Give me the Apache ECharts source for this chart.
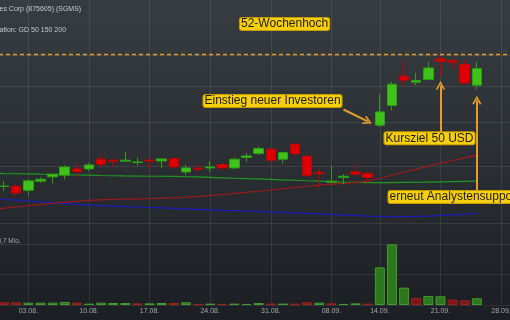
<!DOCTYPE html>
<html><head><meta charset="utf-8">
<script src="https://cdn.jsdelivr.net/npm/echarts@6/dist/echarts.min.js"></script>
<style>
html,body{margin:0;padding:0;width:510px;height:320px;overflow:hidden;background:linear-gradient(180deg,#373c40 0%,#2b2f34 50%,#1b1e22 100%);}
#c{width:510px;height:320px;}
</style>
</head><body><div id="c"></div>
<script>
const dates = ['29.07.','30.07.','31.07.','03.08.','04.08.','05.08.','06.08.','07.08.','10.08.','11.08.','12.08.','13.08.','14.08.','17.08.','18.08.','19.08.','20.08.','21.08.','24.08.','25.08.','26.08.','27.08.','28.08.','31.08.','01.09.','02.09.','03.09.','04.09.','08.09.','09.09.','10.09.','11.09.','14.09.','15.09.','16.09.','17.09.','18.09.','21.09.','22.09.','23.09.','24.09.','25.09.','28.09.','29.09.'];
const tickLabels = ['03.08.','10.08.','17.08.','24.08.','31.08.','08.09.','14.09.','21.09.','28.09.'];

const open  = [null,18.06,18.08,17.72,18.55,18.96,19.12,19.74,19.74,20.73,20.63,20.52,20.39,20.63,20.55,20.81,19.44,19.81,19.84,20.18,19.84,20.91,21.34,21.81,20.73,22.37,21.05,19.38,18.45,18.90,19.44,19.31,24.63,27.21,31.56,30.61,31.03,34.44,34.10,33.48,30.15];
const close = [null,18.10,17.48,18.58,18.74,19.22,19.94,19.48,20.14,20.21,20.52,20.63,20.45,20.55,20.76,19.94,19.84,19.71,19.94,19.84,20.73,21.08,21.89,20.63,21.45,21.34,19.12,19.28,18.55,19.02,19.22,18.90,26.34,30.30,30.92,30.88,32.91,34.05,33.87,30.50,32.81];
const low   = [null,17.66,17.19,17.28,18.39,18.33,18.71,18.96,19.54,19.94,20.01,20.42,20.08,19.84,19.84,19.78,19.12,19.44,19.44,19.61,19.71,20.45,21.16,20.52,20.29,20.97,18.90,17.93,18.43,18.27,19.12,18.33,24.42,26.57,30.15,30.15,30.92,31.67,32.69,30.30,29.50];
const high  = [null,18.55,18.27,18.76,18.90,19.25,20.11,20.29,20.35,21.16,20.73,21.59,20.91,20.91,20.80,20.85,20.18,20.18,20.52,20.29,20.91,21.40,22.14,21.89,21.45,22.40,21.16,19.78,20.04,19.22,20.21,19.31,28.81,30.66,33.93,32.09,33.93,34.97,34.51,34.22,33.93];

const gd50  = [16.06,16.18,16.28,16.38,16.48,16.59,16.68,16.76,16.83,16.88,16.92,16.94,16.97,16.99,17.02,17.05,17.10,17.17,17.25,17.34,17.44,17.53,17.63,17.74,17.86,17.97,18.08,18.18,18.27,18.34,18.42,18.55,18.83,19.12,19.41,19.71,20.01,20.32,20.60,20.88,21.16];
const gd150 = [19.31,19.28,19.26,19.25,19.22,19.20,19.17,19.14,19.12,19.09,19.07,19.05,19.04,19.02,19.02,19.00,18.97,18.95,18.91,18.87,18.83,18.79,18.76,18.72,18.68,18.64,18.59,18.55,18.50,18.45,18.43,18.41,18.41,18.42,18.44,18.45,18.47,18.49,18.51,18.53,18.55];
const gd200 = [16.95,16.91,16.85,16.78,16.71,16.64,16.58,16.51,16.44,16.39,16.35,16.31,16.28,16.24,16.21,16.17,16.13,16.09,16.05,16.01,15.98,15.94,15.91,15.88,15.85,15.81,15.77,15.73,15.69,15.65,15.60,15.55,15.52,15.50,15.50,15.52,15.55,15.60,15.65,15.71,15.77];

// volume in Mio., direction 1 = up (green), 0 = down (red)
const volume = [null,0.031,0.031,0.027,0.027,0.027,0.035,0.027,0.016,0.027,0.023,0.023,0.019,0.019,0.023,0.023,0.031,0.012,0.016,0.012,0.016,0.012,0.023,0.016,0.016,0.016,0.031,0.027,0.019,0.012,0.019,0.016,0.434,0.700,0.200,0.081,0.104,0.100,0.062,0.054,0.077];
const volUp  = [null,0,0,1,1,1,1,0,1,1,1,1,0,1,1,0,1,0,1,0,1,1,1,0,1,0,0,1,0,1,1,0,1,1,1,0,1,1,0,0,1];

const high52 = 35.22;
const priceGrid = [15,20,25,30,35];
const volMax = 0.7;

const arrowKursziel = [['21.09.',23.77],['21.09.',30.10]];
const arrowSupport  = [['24.09.',17.63],['24.09.',27.95]];
const arrowInvest   = [['09.09.',26.66],['11.09.',25.10]];

const gridCol = 'rgba(255,255,255,0.085)';
const orange = '#e39d2a';
const arrowHead = 'path://M0,9 L5,0 L10,9 L8.4,10 L5,3.4 L1.6,10 Z';

const candleData = dates.map((d,i)=> open[i]==null ? '-' : [open[i],close[i],low[i],high[i]]);
const volData = volume.map((v,i)=> v==null ? '-' : {
  value:v,
  itemStyle: volUp[i] ? {color:'#2d781c',borderColor:'#449a2e',borderWidth:1} : {color:'#7e1616',borderColor:'#a32020',borderWidth:1}
});

const chart = echarts.init(document.getElementById('c'), null, {renderer:'canvas'});
const lbl = (txt,x,y)=>({type:'text', x:x, y:y, z:100, style:{text:txt, font:'12px "Liberation Sans", Arial, sans-serif', fill:'#1d1d1d', backgroundColor:'#f6cf0c', borderColor:'#c99b00', borderWidth:1, borderRadius:2, padding:[0,1,0,1], lineHeight:12, verticalAlign:'top', align:'left'}});

chart.setOption({
  animation:false,
  backgroundColor:'transparent',
  grid:[
    {left:-8, width:521.2, top:0, height:303.3, outerBoundsMode:'none', containLabel:false},
    {left:-8, width:521.2, top:244.3, height:60.7, outerBoundsMode:'none', containLabel:false}
  ],
  xAxis:[
    {type:'category', data:dates, boundaryGap:false, gridIndex:0,
     axisLine:{show:false}, axisTick:{show:false}, axisLabel:{show:false},
     splitLine:{show:true, interval:(i,v)=>tickLabels.includes(v), lineStyle:{color:gridCol, width:1}}},
    {type:'category', data:dates, boundaryGap:false, gridIndex:1,
     axisLine:{show:false}, axisTick:{show:false}, splitLine:{show:false},
     axisLabel:{show:true, interval:(i,v)=>tickLabels.includes(v), color:'#a4a8ac', fontSize:7, fontFamily:'"Liberation Sans", Arial, sans-serif', margin:3}}
  ],
  yAxis:[
    {type:'log', min:10, max:46.4, gridIndex:0, axisLine:{show:false}, axisTick:{show:false}, axisLabel:{show:false}, splitLine:{show:false}},
    {type:'value', min:0, max:volMax, interval:volMax/2, gridIndex:1, axisLine:{show:false}, axisTick:{show:false},
     splitLine:{show:true, lineStyle:{color:gridCol, width:1}},
     axisLabel:{show:true, inside:true, margin:5.5, verticalAlign:'bottom', color:'#a4a8ac', fontSize:6.5, fontFamily:'"Liberation Sans", Arial, sans-serif',
       formatter:(v)=> Math.abs(v-volMax)<1e-9 ? '0,7 Mio.' : ''}}
  ],
  series:[
    {type:'line', name:'GD 200', data:gd200, xAxisIndex:0, yAxisIndex:0, symbol:'none', z:2,
     lineStyle:{color:'#1c1cb8', width:1.2},
     markLine:{silent:true, z:1, symbol:['none','none'], label:{show:false}, lineStyle:{color:gridCol, type:'solid', width:1},
       data: priceGrid.map(p=>({yAxis:p}))}},
    {type:'line', name:'GD 150', data:gd150, xAxisIndex:0, yAxisIndex:0, symbol:'none', z:2,
     lineStyle:{color:'#1f9a1f', width:1.2},
     markLine:{silent:true, z:6, symbol:['none','none'], label:{show:false}, lineStyle:{color:orange, type:[4,3], width:1.4},
       data:[{yAxis:high52}]}},
    {type:'line', name:'GD 50', data:gd50, xAxisIndex:0, yAxisIndex:0, symbol:'none', z:2,
     lineStyle:{color:'#9c1a1a', width:1.2}},
    {type:'candlestick', name:'SGMS', data:candleData, xAxisIndex:0, yAxisIndex:0, barWidth:10, z:3,
     itemStyle:{color:'#3fc21a', color0:'#de0000', borderColor:'#2f9e14', borderColor0:'#c40000', borderWidth:1},
     markLine:{silent:true, z:7, symbol:['none', arrowHead], symbolSize:[9,9], label:{show:false},
       lineStyle:{color:orange, type:'solid', width:2},
       data:[
         [{coord:arrowKursziel[0]},{coord:arrowKursziel[1]}],
         [{coord:arrowSupport[0]},{coord:arrowSupport[1]}],
         [{coord:arrowInvest[0]},{coord:arrowInvest[1]}]
       ]}},
    {type:'bar', name:'Volumen', data:volData, xAxisIndex:1, yAxisIndex:1, barWidth:10}
  ],
  graphic:[
    {type:'text', x:-0.5, y:9.5, style:{text:'es Corp (875605) (SGMS)', font:'7px "Liberation Sans", Arial, sans-serif', fill:'#c6cacd', verticalAlign:'middle', align:'left'}},
    {type:'text', x:-0.5, y:30, style:{text:'ation: GD 50 150 200', font:'7px "Liberation Sans", Arial, sans-serif', fill:'#c6cacd', verticalAlign:'middle', align:'left'}},
    lbl('52-Wochenhoch', 240, 18),
    lbl('Einstieg neuer Investoren', 203.5, 95),
    lbl('Kursziel 50 USD', 384.5, 132.3),
    lbl('erneut Analystensupport', 388.5, 191)
  ]
});
</script>
</body></html>
